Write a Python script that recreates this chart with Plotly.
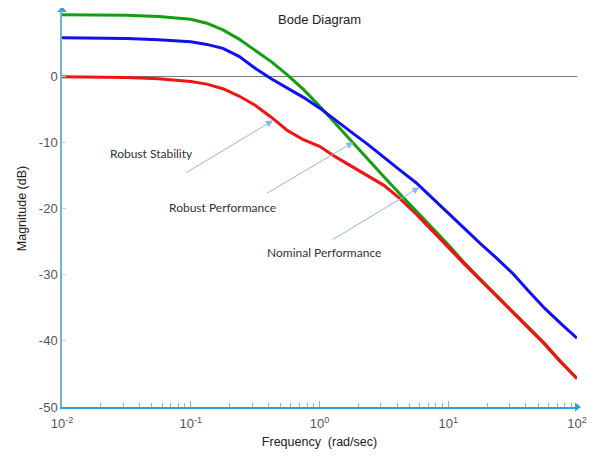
import plotly.graph_objects as go

# log10 of frequency (rad/sec) sample positions
log_freq = [-2, -1.75, -1.5, -1.25, -1.125, -1, -0.875, -0.75, -0.625, -0.5, -0.375,
            -0.25, -0.125, 0, 0.125, 0.25, 0.375, 0.5, 0.625, 0.75, 0.875, 1,
            1.125, 1.25, 1.375, 1.5, 1.625, 1.75, 1.875, 2]
freq = [10 ** v for v in log_freq]

# magnitudes (dB)
nominal_perf = [9.3, 9.3, 9.2, 9.0, 8.85, 8.6, 8.0, 7.0, 5.6, 3.9, 2.2,
                0.2, -2.0, -4.5, -7.2, -9.9, -12.6, -15.2, -17.8, -20.3, -22.9, -25.5,
                -28.2, -30.7, -33.2, -35.6, -38.0, -40.5, -43.2, -45.7]
robust_stab = [5.8, 5.8, 5.7, 5.5, 5.4, 5.2, 4.8, 4.2, 3.0, 1.2, -0.4,
               -1.8, -3.2, -4.8, -6.7, -8.5, -10.3, -12.3, -14.2, -16.1, -18.4, -20.8,
               -23.1, -25.3, -27.5, -29.8, -32.5, -35.1, -37.4, -39.6]
robust_perf = [-0.1, -0.1, -0.2, -0.4, -0.6, -0.8, -1.2, -1.9, -3.0, -4.4, -6.2,
               -8.2, -9.6, -10.6, -12.2, -13.6, -15.0, -16.5, -18.5, -20.8, -23.3, -25.9,
               -28.4, -30.8, -33.2, -35.6, -38.0, -40.5, -43.2, -45.7]

y_ticks = [10, 0, -10, -20, -30, -40, -50]
x_ticks = [0.01, 0.1, 1, 10, 100]
x_tick_text = ["10<sup>-2</sup>", "10<sup>-1</sup>", "10<sup>0</sup>", "10<sup>1</sup>", "10<sup>2</sup>"]

minor_vals = [m * d for d in [0.01, 0.1, 1, 10] for m in range(2, 10)]

fig = go.Figure()
fig.add_trace(go.Scatter(x=freq, y=robust_perf, mode="lines",
                         line=dict(color="#f01414", width=3), showlegend=False))
fig.add_trace(go.Scatter(x=freq, y=nominal_perf, mode="lines",
                         line=dict(color="#12a012", width=3), showlegend=False))
fig.add_trace(go.Scatter(x=freq, y=robust_stab, mode="lines",
                         line=dict(color="#1010f5", width=3), showlegend=False))
# robust performance drawn again on top where curves merge
fig.add_trace(go.Scatter(x=freq[19:], y=robust_perf[19:], mode="lines",
                         line=dict(color="#f01414", width=3), showlegend=False))

# axis arrow heads
fig.add_trace(go.Scatter(x=[0.01], y=[10], mode="markers", cliponaxis=False,
                         marker=dict(symbol="triangle-up", size=8, color="#29a3dc"),
                         showlegend=False, hoverinfo="skip"))
fig.add_trace(go.Scatter(x=[100], y=[-50], mode="markers", cliponaxis=False,
                         marker=dict(symbol="triangle-right", size=8, color="#29a3dc"),
                         showlegend=False, hoverinfo="skip"))

lab_font = dict(family="Lato, Open Sans, sans-serif", size=12, color="#333333")
arrow_common = dict(showarrow=True, arrowhead=2, arrowsize=1.4, arrowwidth=1,
                    arrowcolor="#8fb8e0", axref="pixel", ayref="pixel", xref="x", yref="y")

fig.add_annotation(x=-0.3615, y=-6.7, ax=-88, ay=53, text="", **arrow_common)
fig.add_annotation(x=0.2638, y=-9.97, ax=-88, ay=52, text="", **arrow_common)
fig.add_annotation(x=0.776, y=-16.8, ax=-88, ay=53, text="", **arrow_common)

fig.add_annotation(x=-1.302, y=-11.63, text="Robust Stability", showarrow=False,
                   xref="x", yref="y", font=lab_font)
fig.add_annotation(x=-0.751, y=-19.8, text="Robust Performance", showarrow=False,
                   xref="x", yref="y", font=lab_font)
fig.add_annotation(x=0.033, y=-26.6, text="Nominal Performance", showarrow=False,
                   xref="x", yref="y", font=lab_font)

fig.add_annotation(x=0.003, y=8.6, xref="x", yref="y", text="Bode Diagram",
                   showarrow=False, xanchor="center", yanchor="middle",
                   font=dict(family="Liberation Sans, Arial, sans-serif", size=13, color="#222222"))

# the page body adds an 8px offset; margins are shifted to compensate
fig.update_layout(
    width=600, height=457,
    margin=dict(l=53.5, r=31, t=2, b=58, autoexpand=False),
    paper_bgcolor="white", plot_bgcolor="white",
    xaxis=dict(
        type="log", range=[-2, 2], automargin=False,
        tickvals=x_ticks, ticktext=x_tick_text,
        ticks="inside", ticklen=6, tickcolor="#aaaaaa",
        ticklabelstandoff=4,
        showgrid=False, zeroline=False,
        showline=True, linecolor="#29a3dc", linewidth=1.5,
        tickfont=dict(family="Liberation Sans, Arial, sans-serif", size=13, color="#555555"),
        minor=dict(tickvals=minor_vals, ticks="inside", ticklen=4, tickcolor="#aaaaaa", showgrid=False),
        title=dict(text="Frequency  (rad/sec)", standoff=7,
                   font=dict(family="Liberation Sans, Arial, sans-serif", size=12.5, color="#222222")),
    ),
    yaxis=dict(
        range=[-50, 10], automargin=False,
        tickvals=y_ticks, ticktext=[str(v) for v in y_ticks],
        ticks="inside", ticklen=4, tickcolor="#cccccc",
        showgrid=False,
        zeroline=True, zerolinecolor="#777777", zerolinewidth=1,
        showline=True, linecolor="#7ab0cc", linewidth=1.5,
        tickfont=dict(family="Liberation Sans, Arial, sans-serif", size=13, color="#555555"),
        title=dict(text="Magnitude (dB)", standoff=9,
                   font=dict(family="Liberation Sans, Arial, sans-serif", size=12.5, color="#222222")),
    ),
)

fig.write_html("out.html")
